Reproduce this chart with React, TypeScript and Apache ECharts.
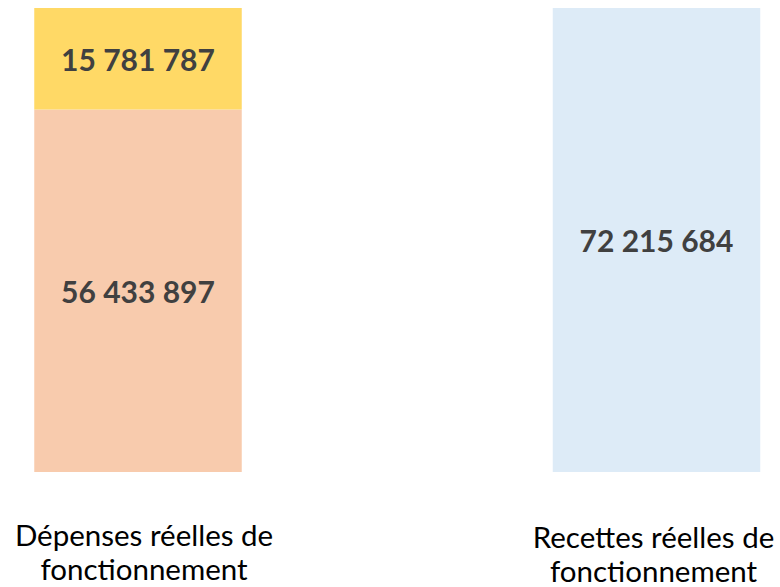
import React, { useEffect, useRef } from "react";
import * as echarts from "echarts";

const categories = ["Dépenses réelles de\nfonctionnement", "Recettes réelles de\nfonctionnement"];
const depensesAutres = [56433897, null];
const depensesEpargne = [15781787, null];
const recettes = [null, 72215684];

const fmt = (v: number) => String(v).replace(/\B(?=(\d{3})+(?!\d))/g, " ");

export default function App() {
  const ref = useRef<HTMLDivElement>(null);
  useEffect(() => {
    if (!ref.current) return;
    const chart = echarts.init(ref.current, undefined, { renderer: "svg" });
    const valueLabel = {
      show: true,
      position: "inside" as const,
      fontFamily: "Lato",
      fontWeight: "bold" as const,
      fontSize: 30,
      color: "#404040",
      formatter: (p: any) => fmt(p.value),
    };
    chart.setOption({
      animation: false,
      backgroundColor: "#ffffff",
      grid: {
        left: -121.25,
        right: -135.75,
        top: 8,
        bottom: 115,
        containLabel: false,
        outerBoundsMode: "none",
      },
      xAxis: {
        type: "category",
        data: [
          { value: categories[0], textStyle: { padding: [0, 0, 0, 12] } },
          { value: categories[1], textStyle: { padding: [2, 6, 0, 0] } },
        ],
        axisLine: { show: false },
        axisTick: { show: false },
        axisLabel: {
          interval: 0,
          margin: 45,
          fontFamily: "Lato",
          fontSize: 29.5,
          lineHeight: 34,
          color: "#000000",
        },
      },
      yAxis: {
        type: "value",
        min: 0,
        max: 72215684,
        show: false,
        splitLine: { show: false },
      },
      series: [
        {
          type: "bar",
          stack: "total",
          barWidth: 207.5,
          data: depensesAutres,
          itemStyle: { color: "#F8CBAD" },
          label: valueLabel,
        },
        {
          type: "bar",
          stack: "total",
          barWidth: 207.5,
          data: depensesEpargne,
          itemStyle: { color: "#FFD966" },
          label: valueLabel,
        },
        {
          type: "bar",
          stack: "total",
          barWidth: 207.5,
          data: recettes,
          itemStyle: { color: "#DDEBF7" },
          label: valueLabel,
        },
      ],
    });
    return () => chart.dispose();
  }, []);
  return (
    <div
      ref={ref}
      style={{ position: "fixed", left: 0, top: 0, width: 780, height: 587 }}
    />
  );
}
